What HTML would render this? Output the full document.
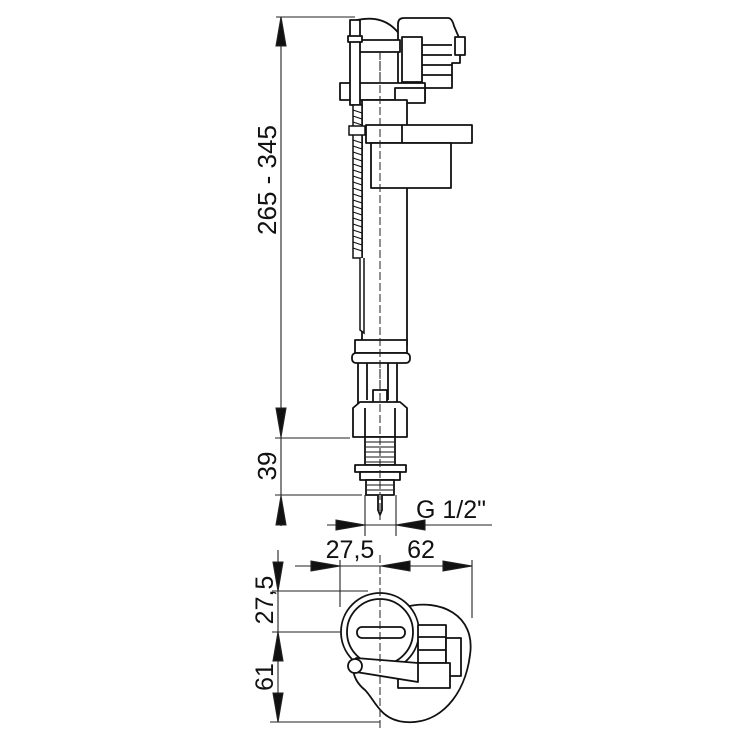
<!DOCTYPE html>
<html><head><meta charset="utf-8"><style>
html,body{margin:0;padding:0;background:#fff;}
svg{display:block}
text{font-family:"Liberation Sans",sans-serif;fill:#111;}
</style></head><body>
<svg width="741" height="741" viewBox="0 0 741 741" xmlns="http://www.w3.org/2000/svg">
<g stroke="#222" stroke-width="1.1" fill="none">
<line x1="276" y1="17" x2="355" y2="17"/>
<line x1="281" y1="17" x2="281" y2="437"/>
<path d="M276,46 L281,17 L286,46 z" fill="#111"/>
<path d="M276,408 L281,437 L286,408 z" fill="#111"/>
<line x1="275" y1="438" x2="350" y2="438"/>
<line x1="275" y1="495" x2="362" y2="495"/>
<line x1="281" y1="437" x2="281" y2="526"/>
<path d="M276,525 L281,496 L286,525 z" fill="#111"/>
<line x1="327" y1="525" x2="492" y2="525"/>
<line x1="365" y1="495" x2="365" y2="536"/>
<line x1="396" y1="495" x2="396" y2="536"/>
<path d="M336,520 L365,525 L336,530 z" fill="#111"/>
<path d="M425,520 L396,525 L425,530 z" fill="#111"/>
<line x1="295" y1="566" x2="472" y2="566"/>
<line x1="340" y1="560" x2="340" y2="607"/>
<line x1="472" y1="560" x2="472" y2="618"/>
<path d="M311,561 L340,566 L311,571 z" fill="#111"/>
<path d="M410,561 L381,566 L410,571 z" fill="#111"/>
<path d="M443,561 L472,566 L443,571 z" fill="#111"/>
<line x1="278" y1="550" x2="278" y2="722"/>
<line x1="272" y1="591" x2="368" y2="591"/>
<line x1="272" y1="632" x2="340" y2="632"/>
<line x1="270" y1="722" x2="380" y2="722"/>
<path d="M273,562 L278,591 L283,562 z" fill="#111"/>
<path d="M273,661 L278,632 L283,661 z" fill="#111"/>
<path d="M273,693 L278,722 L283,693 z" fill="#111"/>
<line x1="380" y1="50" x2="380" y2="520" stroke-dasharray="8,3"/>
<line x1="330" y1="632" x2="420" y2="632" stroke-dasharray="8,3"/>
</g>
<g stroke="#111" stroke-width="1.8" fill="#fff" stroke-linejoin="round">
<path d="M357,20 Q385,14 400,35 L400,50 L360,50 z"/>
<path d="M398,24 Q398,18 404,18 L448,18 Q452,18 454,26 L460,40 L460,63 L452,63 L452,88 L398,88 z"/>
<rect x="455" y="37" width="10" height="18"/>
<rect x="402" y="37" width="20" height="45"/>
<line x1="422" y1="45" x2="452" y2="45"/><line x1="422" y1="55" x2="452" y2="55"/><line x1="422" y1="65" x2="452" y2="65"/><line x1="422" y1="75" x2="452" y2="75"/>
<path d="M357,40 L400,40 L400,52 L357,52 z"/>
<rect x="340" y="83" width="85" height="17"/>
<rect x="395" y="88" width="30" height="15"/>
<rect x="362" y="100" width="45" height="245"/>
<rect x="350" y="20" width="10" height="85"/>
<rect x="348" y="36" width="14" height="6"/>
<rect x="366" y="125" width="106" height="18"/>
<line x1="402" y1="125" x2="402" y2="143"/>
<rect x="371" y="143" width="80" height="45"/>
<rect x="355" y="340" width="52" height="13"/>
<rect x="352" y="353" width="58" height="10" rx="4"/>
<path d="M358,363 L358,405 M397,363 L397,405 M367,363 L367,400 M388,363 L388,400"/>
<rect x="373" y="390" width="14" height="15"/>
<path d="M353,408 L360,402 L400,402 L407,408 L407,437 L353,437 z"/>
<line x1="365" y1="408" x2="365" y2="437"/><line x1="395" y1="408" x2="395" y2="437"/>
<rect x="365" y="437" width="30" height="28"/>
<rect x="355" y="465" width="51" height="7"/>
<rect x="360" y="472" width="40" height="8"/>
<rect x="366" y="480" width="28" height="15"/>
<path d="M378,495 L378,510 L380,515 L382,510 L382,495"/>
</g>
<line x1="380" y1="52" x2="380" y2="518" stroke="#222" stroke-width="1" stroke-dasharray="8,3"/>
<g stroke="#111" stroke-width="0.9">
<line x1="366" y1="442" x2="394" y2="442"/><line x1="366" y1="447" x2="394" y2="447"/><line x1="366" y1="452" x2="394" y2="452"/><line x1="366" y1="457" x2="394" y2="457"/><line x1="366" y1="462" x2="394" y2="462"/>
<line x1="367" y1="485" x2="393" y2="485"/><line x1="367" y1="490" x2="393" y2="490"/>
</g>
<g stroke="#111" stroke-width="1.5" fill="#fff">
<path d="M353,105 L353,258 L362,258 L362,105 z"/>
<rect x="349" y="126" width="16" height="9"/>
<path d="M360,258 L360,330 L364,333 L364,258"/>
</g>
<g stroke="#111" stroke-width="1.1">
<path d="M353,110 L362,113 M353,116 L362,119 M353,122 L362,125 M353,140 L362,143 M353,146 L362,149 M353,152 L362,155 M353,158 L362,161 M353,164 L362,167 M353,170 L362,173 M353,176 L362,179 M353,182 L362,185 M353,188 L362,191 M353,194 L362,197 M353,200 L362,203 M353,206 L362,209 M353,212 L362,215 M353,218 L362,221 M353,224 L362,227 M353,230 L362,233 M353,236 L362,239 M353,242 L362,245 M353,248 L362,251"/>
</g>
<g stroke="#111" stroke-width="1.8" fill="#fff" stroke-linejoin="round">
<path d="M405,607 C440,598 476,615 470,655 C465,695 440,725 405,722 C380,720 375,700 365,690 C350,678 350,660 360,650 z"/>
<circle cx="380" cy="632" r="39"/>
<circle cx="380" cy="632" r="33"/>
<rect x="357" y="627" width="48" height="11" rx="5"/>
<rect x="418" y="625" width="28" height="38"/>
<line x1="418" y1="637" x2="446" y2="637"/><line x1="418" y1="650" x2="446" y2="650"/>
<rect x="446" y="638" width="15" height="38"/>
<rect x="398" y="663" width="52" height="25"/>
<path d="M356,658 L418,663 L418,682 L356,672 z"/>
<circle cx="355" cy="666" r="7"/>
</g>
<line x1="380" y1="555" x2="380" y2="728" stroke="#222" stroke-dasharray="8,3"/>
<text x="0" y="0" font-size="26" transform="translate(276,180) rotate(-90)" text-anchor="middle">265 - 345</text>
<text x="0" y="0" font-size="26" transform="translate(276,466) rotate(-90)" text-anchor="middle">39</text>
<text x="416" y="518" font-size="25">G 1/2"</text>
<text x="350" y="558" font-size="25" text-anchor="middle">27,5</text>
<text x="421" y="558" font-size="25" text-anchor="middle">62</text>
<text x="0" y="0" font-size="25" transform="translate(273,600) rotate(-90)" text-anchor="middle">27,5</text>
<text x="0" y="0" font-size="25" transform="translate(273,677) rotate(-90)" text-anchor="middle">61</text>
</svg>
</body></html>
